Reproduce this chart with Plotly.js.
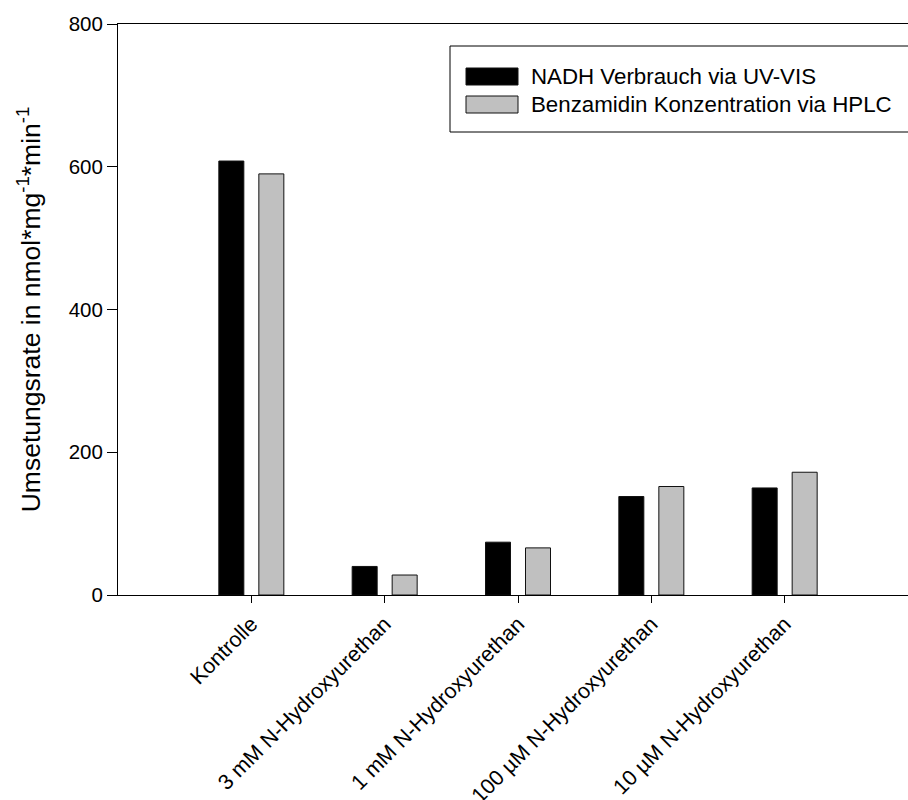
<!DOCTYPE html>
<html>
<head>
<meta charset="utf-8">
<script src="https://cdn.plot.ly/plotly-3.0.1.min.js"></script>
<style>html,body{margin:0;padding:0;background:#fff;}#chart{width:908px;height:800px;}</style>
</head>
<body>
<div id="chart"></div>
<script>
const categories = ["Kontrolle", "3 mM N-Hydroxyurethan", "1 mM N-Hydroxyurethan", "100 µM N-Hydroxyurethan", "10 µM N-Hydroxyurethan"];
const seriesNames = ["NADH Verbrauch via UV-VIS", "Benzamidin Konzentration via HPLC"];
const nadhValues = [608, 40, 74, 138, 150];
const hplcValues = [590, 28, 66, 152, 172];
const yTickValues = [0, 200, 400, 600, 800];
const colors = ["#000000", "#c0c0c0"];

const xIdx = categories.map((c, i) => i);
const font = "Arial, 'Liberation Sans', sans-serif";

const traces = [nadhValues, hplcValues].map((vals, k) => ({
  type: "bar",
  x: xIdx,
  y: vals,
  name: seriesNames[k],
  marker: {color: colors[k], line: {color: "#111111", width: 1}},
  showlegend: false,
  hoverinfo: "y"
}));

// manual legend (symbols + labels) in pixel-derived paper coords
const W = 908, H = 800, mL = 118, mR = 0, mT = 24, mB = 205;
const pw = W - mL - mR, ph = H - mT - mB;
const px = x => (x - mL) / pw;
const py = y => 1 - (y - mT) / ph;

const shapes = [
  {type: "rect", xref: "paper", yref: "paper", x0: px(450), x1: px(920), y0: py(46), y1: py(132),
   line: {color: "#000", width: 1}, fillcolor: "rgba(0,0,0,0)"}
];
const annotations = [];
const rowY = [76.5, 104.5];
seriesNames.forEach((n, k) => {
  shapes.push({type: "rect", xref: "paper", yref: "paper", x0: px(466), x1: px(518),
    y0: py(rowY[k] - 8.5), y1: py(rowY[k] + 8.5), line: {color: "#111", width: 1}, fillcolor: colors[k]});
  annotations.push({xref: "paper", yref: "paper", x: px(529), y: py(rowY[k]), xanchor: "left", yanchor: "middle",
    text: n, showarrow: false, font: {family: font, size: 22.3, color: "#000"}});
});

const layout = {
  width: W, height: H,
  margin: {l: mL, r: mR, t: mT, b: mB, pad: 0},
  paper_bgcolor: "#fff", plot_bgcolor: "#fff",
  barmode: "group", bargap: 0.4, bargroupgap: 0.375,
  font: {family: font, color: "#000"},
  xaxis: {
    range: [-1, 4.925], tickmode: "array", tickvals: xIdx, ticktext: categories,
    tickangle: -45, ticks: "outside", ticklen: 7, tickwidth: 1, tickcolor: "#000",
    showline: true, linecolor: "#000", linewidth: 1, mirror: true,
    showgrid: false, zeroline: false, tickfont: {family: font, size: 21.5, color: "#000"},
    automargin: false
  },
  yaxis: {
    range: [0, 800], tickmode: "array", tickvals: yTickValues, ticks: "outside", ticklen: 10, tickwidth: 1, tickcolor: "#000",
    showline: true, linecolor: "#000", linewidth: 1, showgrid: false, zeroline: false,
    tickfont: {family: font, size: 20.5, color: "#000"},
    title: {text: "Umsetungsrate in nmol*mg<sup>-1</sup>*min<sup>-1</sup>", font: {family: font, size: 26.5, color: "#000"}, standoff: 20},
    automargin: false
  },
  shapes: shapes,
  annotations: annotations
};

Plotly.newPlot("chart", traces, layout, {staticPlot: true, displayModeBar: false});
</script>
</body>
</html>
